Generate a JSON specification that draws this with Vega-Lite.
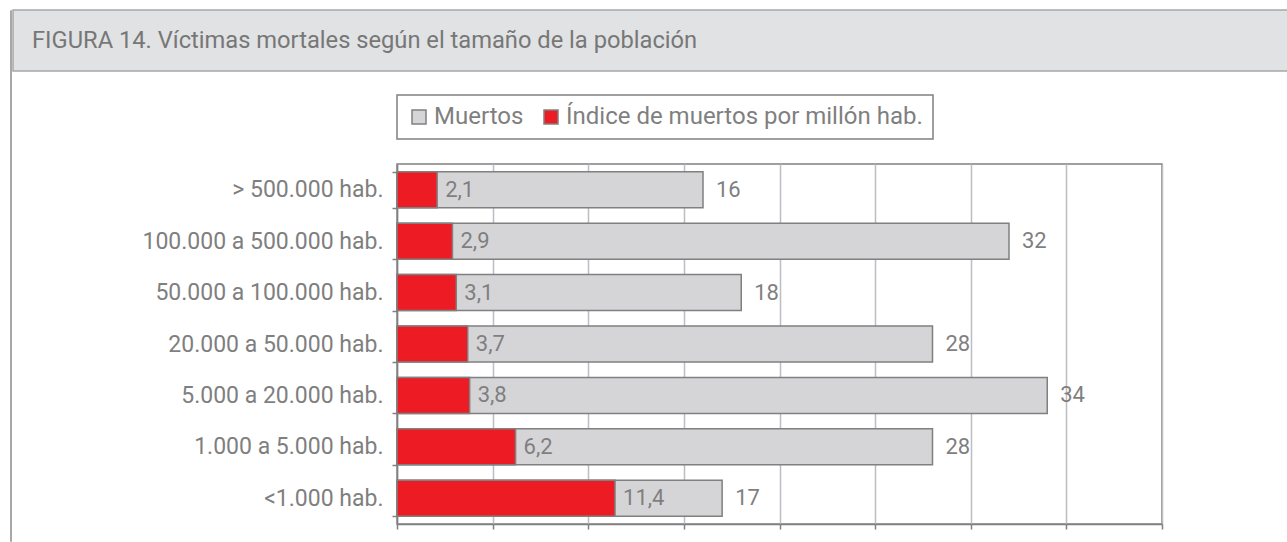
{
  "$schema": "https://vega.github.io/schema/vega-lite/v6.json",
  "background": "white",
  "padding": {"left": 9, "top": 9, "right": 0, "bottom": 0},
  "config": {
    "view": {"stroke": null},
    "font": "Roboto",
    "locale": {"number": {"decimal": ",", "thousands": ".", "grouping": [3], "currency": ["", " €"]}},
    "legend": {"strokeWidth": 1.5}
  },
  "datasets": {
    "d": [
      {"poblacion": "> 500.000 hab.", "muertos": 16, "indice": 2.1},
      {"poblacion": "100.000 a 500.000 hab.", "muertos": 32, "indice": 2.9},
      {"poblacion": "50.000 a 100.000 hab.", "muertos": 18, "indice": 3.1},
      {"poblacion": "20.000 a 50.000 hab.", "muertos": 28, "indice": 3.7},
      {"poblacion": "5.000 a 20.000 hab.", "muertos": 34, "indice": 3.8},
      {"poblacion": "1.000 a 5.000 hab.", "muertos": 28, "indice": 6.2},
      {"poblacion": "<1.000 hab.", "muertos": 17, "indice": 11.4}
    ]
  },
  "spacing": 0,
  "resolve": {"scale": {"color": "independent"}, "legend": {"color": "independent"}},
  "hconcat": [
    {
      "data": {"values": []},
      "mark": {"type": "point", "opacity": 0},
      "width": 1,
      "height": 531,
      "view": {"stroke": "#a8a8a8", "strokeWidth": 1, "fill": null}
    },
    {
      "spacing": 21,
      "resolve": {"scale": {"color": "independent"}, "legend": {"color": "independent"}},
      "vconcat": [
        {
          "data": {"values": []},
          "mark": {"type": "point", "opacity": 0},
          "width": 1276,
          "height": 61,
          "view": {"fill": "#e1e2e4", "stroke": "#a8a8a8", "strokeWidth": 1.5},
          "title": {
            "text": "FIGURA 14. Víctimas mortales según el tamaño de la población",
            "orient": "top",
            "anchor": "start",
            "frame": "group",
            "offset": -43,
            "dx": 19,
            "fontSize": 23.7,
            "fontWeight": "normal",
            "font": "Roboto",
            "color": "#777777"
          }
        },
        {
          "spacing": 0,
          "resolve": {"scale": {"color": "independent"}, "legend": {"color": "independent"}},
          "hconcat": [
            {
              "data": {"values": []},
              "mark": {"type": "point", "opacity": 0},
              "width": 128,
              "height": 10
            },
            {
              "data": {"name": "d"},
              "width": 765,
              "height": 360,
              "view": {"stroke": "#808080", "strokeWidth": 1.5},
              "encoding": {
                "y": {
                  "field": "poblacion",
                  "type": "nominal",
                  "sort": null,
                  "scale": {"paddingInner": 0.3, "paddingOuter": 0.15},
                  "axis": {
                    "title": null,
                    "tickBand": "extent",
                    "labelFontSize": 23,
                    "labelFont": "Roboto",
                    "labelColor": "#7f7f7f",
                    "labelPadding": 9,
                    "labelLimit": 600,
                    "tickSize": 5,
                    "tickColor": "#808080",
                    "tickWidth": 1.5,
                    "domainColor": "#808080",
                    "domainWidth": 1.5
                  }
                }
              },
              "layer": [
                {
                  "mark": {"type": "bar", "stroke": "#808080", "strokeWidth": 1.5},
                  "encoding": {
                    "x": {
                      "field": "muertos",
                      "type": "quantitative",
                      "title": null,
                      "scale": {"domain": [0, 40], "nice": false},
                      "axis": {
                        "values": [0, 5, 10, 15, 20, 25, 30, 35, 40],
                        "labels": false,
                        "title": null,
                        "grid": true,
                        "gridColor": "#bdbdc4",
                        "gridWidth": 1.5,
                        "domainColor": "#808080",
                        "domainWidth": 1.5,
                        "tickColor": "#808080",
                        "tickWidth": 1.5,
                        "tickSize": 5
                      }
                    },
                    "color": {
                      "datum": "Muertos",
                      "scale": {
                        "domain": ["Muertos", "Índice de muertos por millón hab."],
                        "range": ["#d5d5d7", "#ed1c24"]
                      },
                      "legend": {
                        "orient": "none",
                        "legendX": 0,
                        "legendY": -69,
                        "direction": "horizontal",
                        "title": null,
                        "symbolType": "square",
                        "symbolSize": 196,
                        "symbolStrokeColor": "#808080",
                        "symbolStrokeWidth": 1.5,
                        "labelFontSize": 24,
                        "labelFont": "Roboto",
                        "labelColor": "#7f7f7f",
                        "labelOffset": 3,
                        "labelLimit": 600,
                        "columnPadding": 15,
                        "padding": 10,
                        "strokeColor": "#808080",
                        "fillColor": "white"
                      }
                    }
                  }
                },
                {
                  "mark": {"type": "bar", "stroke": "#808080", "strokeWidth": 1.5},
                  "encoding": {
                    "x": {"field": "indice", "type": "quantitative", "title": null},
                    "color": {"datum": "Índice de muertos por millón hab."}
                  }
                },
                {
                  "mark": {"type": "text", "align": "left", "baseline": "middle", "dx": 8, "fontSize": 22, "font": "Roboto", "color": "#7f7f7f"},
                  "encoding": {
                    "x": {"field": "indice", "type": "quantitative", "title": null},
                    "text": {"field": "indice", "type": "quantitative", "format": ".1f"}
                  }
                },
                {
                  "mark": {"type": "text", "align": "left", "baseline": "middle", "dx": 13, "fontSize": 22, "font": "Roboto", "color": "#7f7f7f"},
                  "encoding": {
                    "x": {"field": "muertos", "type": "quantitative", "title": null},
                    "text": {"field": "muertos", "type": "quantitative"}
                  }
                }
              ]
            }
          ]
        }
      ]
    }
  ]
}
